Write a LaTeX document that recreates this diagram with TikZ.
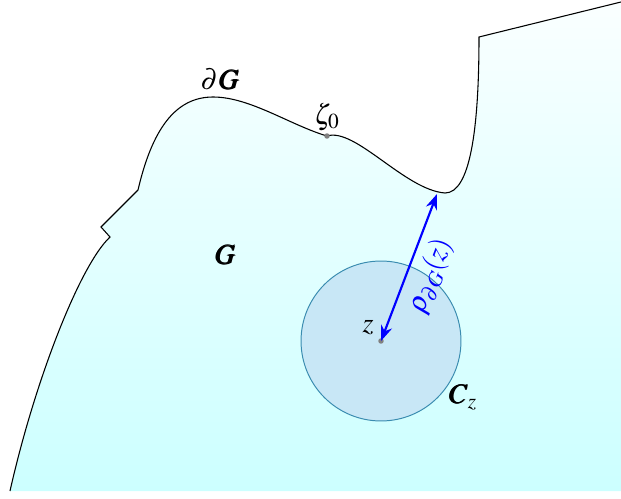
\documentclass[tikz,border=0pt]{standalone}
\usepackage{amsmath}
\usepackage{mathptmx}
\usepackage{bm}
\usetikzlibrary{arrows.meta,positioning}

\definecolor{diskfill}{RGB}{200,231,246}
\definecolor{diskline}{RGB}{58,140,176}

\begin{document}
\begin{tikzpicture}[
  x=0.018cm, y=-0.018cm,
  lbl/.style={inner sep=1pt, font=\Large},
  dot/.style={circle, fill=gray, inner sep=0pt, minimum size=2.8pt},
  >=Stealth
]
  \useasboundingbox (0,0) rectangle (621,499);

  % region G with its boundary
  \shade[top color=cyan!2, bottom color=cyan!20]
    (10,491) .. controls (35,380) and (80,265) .. (110,237)
    -- (101,227) -- (138,190)
    .. controls (152,130) and (175,97) .. (213,97)
    .. controls (250,97) and (290,125) .. (327,136)
    .. controls (355,127) and (405,190) .. (445,193)
    .. controls (470,193) and (479,130) .. (479,37)
    -- (621,2) -- (621,491) -- cycle;
  \draw[line width=0.55pt]
    (10,491) .. controls (35,380) and (80,265) .. (110,237)
    -- (101,227) -- (138,190)
    .. controls (152,130) and (175,97) .. (213,97)
    .. controls (250,97) and (290,125) .. (327,136)
    .. controls (355,127) and (405,190) .. (445,193)
    .. controls (470,193) and (479,130) .. (479,37)
    -- (621,2);

  \coordinate (zc) at (381,341);
  \coordinate (near) at (437,194);
  \coordinate (zeta) at (327,136);

  \node[circle, draw=diskline, fill=diskfill, line width=0.5pt,
        minimum size=2.88cm] (disk) at (zc) {};

  \node[dot] (zetadot) at (zeta) {};
  \node[dot] (zdot) at (zc) {};

  \draw[<->, blue, line width=1.1pt] (zc) -- (near)
    node[midway, sloped, below=3pt, lbl, text=blue] (rho) {$\rho_{\partial G}(z)$};

  \node[lbl] (dG) at (220,79) {$\partial\bm{G}$};
  \node[lbl, above=0pt of zetadot] (zetalbl) {$\zeta_0$};
  \node[lbl] (G) at (225,255) {$\bm{G}$};
  \node[lbl] (z) at (368,328) {$z$};
  \node[lbl] (Cz) at (463,397) {$\bm{C}_z$};
\end{tikzpicture}
\end{document}
